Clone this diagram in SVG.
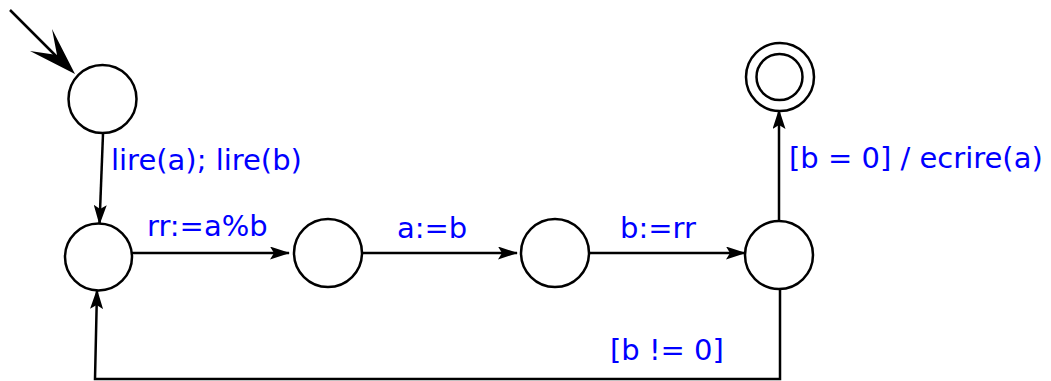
<svg xmlns="http://www.w3.org/2000/svg" width="1051" height="381" viewBox="0 0 1051 381">
<style>
.st{fill:#fff;stroke:#000;stroke-width:2.5}
.ln{fill:none;stroke:#000;stroke-width:2.5}
.lb{font-family:"DejaVu Sans",sans-serif;font-size:29px;fill:#0000ff}
</style>
<defs>
<marker id="ah" viewBox="0 0 20 13" refX="19" refY="6.5" markerWidth="20" markerHeight="13" markerUnits="userSpaceOnUse" orient="auto">
<path d="M0,0 L20,6.5 L0,13 L4,6.5 Z" fill="#000"/>
</marker>
</defs>
<g id="connectors">
<line class="ln" x1="10" y1="10" x2="58" y2="58" stroke-width="3"/>
<polygon points="75,74 52,29 57,55 30,51" fill="#000"/>
<line class="ln" x1="103" y1="134" x2="99.5" y2="224" marker-end="url(#ah)"/>
<line class="ln" x1="132" y1="253" x2="289" y2="253" marker-end="url(#ah)"/>
<line class="ln" x1="362" y1="253" x2="517" y2="253" marker-end="url(#ah)"/>
<line class="ln" x1="589" y1="253" x2="745" y2="253" marker-end="url(#ah)"/>
<line class="ln" x1="779" y1="220" x2="779" y2="110" marker-end="url(#ah)"/>
<polyline class="ln" points="780,289 780,379 95,379 97,290" marker-end="url(#ah)"/>
<text class="lb" x="111" y="170">lire(a); lire(b)</text>
<text class="lb" x="147" y="236">rr:=a%b</text>
<text class="lb" x="397" y="238">a:=b</text>
<text class="lb" x="620" y="238">b:=rr</text>
<text class="lb" x="789" y="168">[b = 0] / ecrire(a)</text>
<text class="lb" x="610" y="360">[b != 0]</text>
</g>
<g id="s0"><circle class="st" cx="102.5" cy="99" r="34"/></g>
<g id="s1"><circle class="st" cx="98.5" cy="257" r="33.5"/></g>
<g id="s2"><circle class="st" cx="328" cy="253" r="34"/></g>
<g id="s3"><circle class="st" cx="555" cy="253" r="34"/></g>
<g id="s4"><circle class="st" cx="779" cy="255" r="34"/></g>
<g id="final"><circle class="st" cx="780" cy="77" r="34" stroke-width="3"/><circle class="st" cx="779.5" cy="77" r="23" stroke-width="1.8"/></g>
</svg>
